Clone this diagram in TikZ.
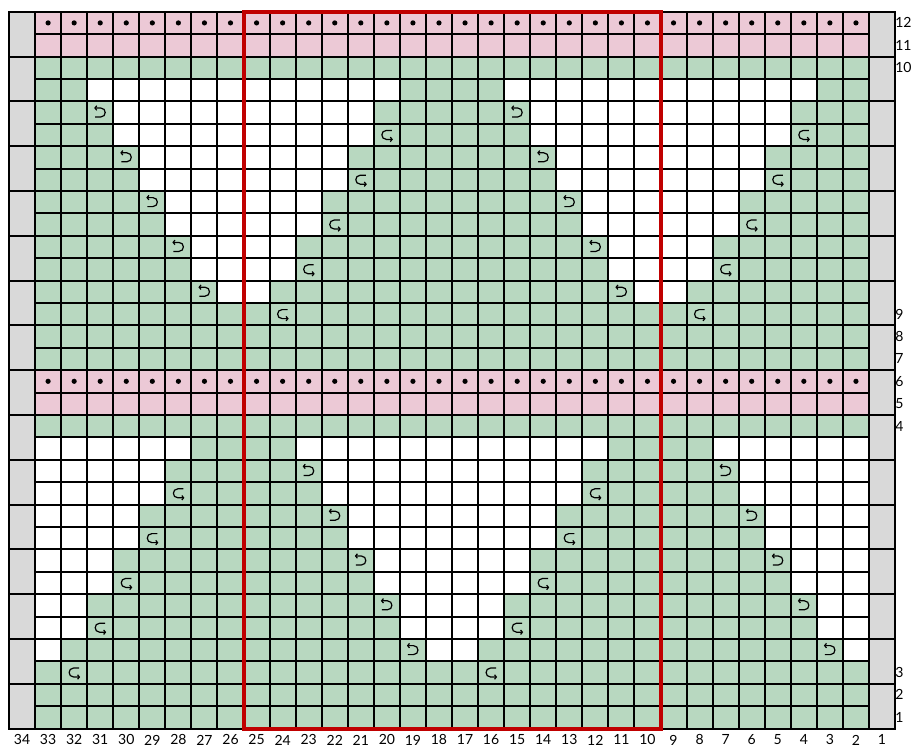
\documentclass[tikz,border=0pt]{standalone}
\usepackage{fontspec}
\setmainfont{Lato}
\usetikzlibrary{arrows.meta}
\definecolor{gr}{HTML}{B8D8C0}
\definecolor{pk}{HTML}{ECC9D6}
\definecolor{gy}{HTML}{D9D9D9}
\definecolor{rd}{HTML}{C00000}
\begin{document}
\begin{tikzpicture}[
  lbl/.style={font=\fontsize{14}{16}\selectfont, inner sep=0pt},
  gridline/.style={line width=2pt, line cap=rect},
  symL/.pic={\draw[line width=1.2pt,-{Straight Barb[length=1.8pt,width=4.5pt]}] (-5pt,-4.5pt) -- (0.5pt,-4.5pt) .. controls (6.5pt,-4.5pt) and (6.5pt,4.5pt) .. (0.5pt,4.5pt) -- (-6pt,4.5pt);},
  symR/.pic={\draw[line width=1.2pt,-{Straight Barb[length=1.8pt,width=4.5pt]}] (5pt,4.5pt) -- (-0.5pt,4.5pt) .. controls (-6.5pt,4.5pt) and (-6.5pt,-4.5pt) .. (-0.5pt,-4.5pt) -- (6pt,-4.5pt);}
]
\useasboundingbox (0,0) rectangle (920pt,-747pt);
\begin{scope}[shift={(9pt,-11.7pt)}, x={(26.06pt,0pt)}, y={(0pt,-22.4pt)}]
  % base fills
  \fill[gr] (1,0) rectangle (33,32);
  \fill[gy] (0,0) rectangle (1,32);
  \fill[gy] (33,0) rectangle (34,32);
  \fill[pk] (1,0) rectangle (33,2);
  \fill[pk] (1,16) rectangle (33,18);
  % top motif white cells
  \fill[white] (3,3) rectangle (15,4);
  \fill[white] (19,3) rectangle (31,4);
  \foreach \h in {5,4,3,2}{
    \pgfmathtruncatemacro\jU{14-2*\h}
    \fill[white] (9-\h,\jU) rectangle (9+\h,\jU+2);
    \fill[white] (25-\h,\jU) rectangle (25+\h,\jU+2);
  }
  \fill[white] (8,12) rectangle (10,13);
  \fill[white] (24,12) rectangle (26,13);
  % bottom motif white cells
  \fill[white] (1,19) rectangle (7,20);
  \fill[white] (11,19) rectangle (23,20);
  \fill[white] (27,19) rectangle (33,20);
  \foreach \h in {5,4,3,2}{
    \pgfmathtruncatemacro\jU{30-2*\h}
    \fill[white] (1,\jU) rectangle (1+\h,\jU+2);
    \fill[white] (17-\h,\jU) rectangle (17+\h,\jU+2);
    \fill[white] (33-\h,\jU) rectangle (33,\jU+2);
  }
  \fill[white] (1,28) rectangle (2,29);
  \fill[white] (16,28) rectangle (18,29);
  \fill[white] (32,28) rectangle (33,29);
  % dots
  \foreach \i in {1,...,32}{
    \fill (\i+0.5,0.5) circle (2.6pt);
    \fill (\i+0.5,16.5) circle (2.6pt);
  }
  % symbols
  \foreach \h in {5,4,3,2,1}{
    \pgfmathtruncatemacro\jU{14-2*\h}
    \pic at (8.5-\h,\jU+0.5) {symL};
    \pic at (24.5-\h,\jU+0.5) {symL};
    \pic at (9.5+\h,\jU+1.5) {symR};
    \pic at (25.5+\h,\jU+1.5) {symR};
    \pgfmathtruncatemacro\jB{30-2*\h}
    \pic at (16.5-\h,\jB+0.5) {symL};
    \pic at (32.5-\h,\jB+0.5) {symL};
    \pic at (1.5+\h,\jB+1.5) {symR};
    \pic at (17.5+\h,\jB+1.5) {symR};
  }
  % grid
  \foreach \i in {1,...,33} \draw[gridline] (\i,0) -- (\i,32);
  \foreach \j in {1,...,31} \draw[gridline] (1,\j) -- (33,\j);
  \foreach \j in {2,4,...,30}{
    \draw[gridline] (0,\j) -- (1,\j);
    \draw[gridline] (33,\j) -- (34,\j);
  }
  \draw[line width=2pt] (0,0) rectangle (34,32);
  % red frame
  \draw[rd, line width=4pt] (9,0) rectangle (25,32);
  % column labels
  \foreach \i in {0,...,33}{
    \pgfmathtruncatemacro\n{34-\i}
    \node[lbl] (col\n) at (\i+0.5,32.51) {\n};
  }
  % row labels
  \foreach \n/\j in {1/31,2/30,3/29,4/18,5/17,6/16,7/15,8/14,9/13,10/2,11/1,12/0}{
    \node[lbl, anchor=west] (row\n) at (34.0,\j+0.5) {\n};
  }
\end{scope}
\end{tikzpicture}
\end{document}
